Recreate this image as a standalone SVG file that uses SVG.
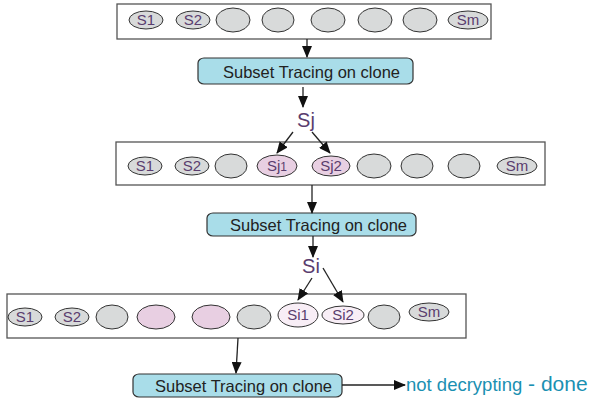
<svg xmlns="http://www.w3.org/2000/svg" width="590" height="404" viewBox="0 0 590 404">
<defs>
<style>
.row{fill:#fff;stroke:#555;stroke-width:1.3}
.g{fill:#d8dada;stroke:#333;stroke-width:1}
.p{fill:#e8cfe2;stroke:#333;stroke-width:1}
.lp{fill:#f8eef6;stroke:#333;stroke-width:1}
.lbl{font-family:"Liberation Sans",Arial,sans-serif;font-size:15px;fill:#5a3d6e;text-anchor:middle}
.big{font-family:"Liberation Sans",Arial,sans-serif;font-size:20px;fill:#5a3d6e;text-anchor:middle}
.proc{fill:#a9dde9;stroke:#333;stroke-width:1.2}
.pt{font-family:"Liberation Sans",Arial,sans-serif;font-size:16.5px;fill:#222}
.c{stroke:#222;stroke-width:1.3;fill:none;marker-end:url(#ah)}
.teal{font-family:"Liberation Sans",Arial,sans-serif;fill:#1a90b2}
</style>
<marker id="ah" markerWidth="12" markerHeight="10" refX="11" refY="5" orient="auto" markerUnits="userSpaceOnUse">
<path d="M0,0 L12,5 L0,10 z" fill="#111"/>
</marker>
</defs>

<g id="row1">
<rect class="row" x="117" y="4" width="374" height="35"/>
<ellipse class="g" cx="146" cy="20" rx="17" ry="9"/>
<text class="lbl" x="146" y="25">S1</text>
<ellipse class="g" cx="193" cy="20" rx="17" ry="9"/>
<text class="lbl" x="193" y="25">S2</text>
<ellipse class="g" cx="233" cy="20" rx="17" ry="12"/>
<ellipse class="g" cx="278" cy="20" rx="16" ry="12"/>
<ellipse class="g" cx="328" cy="20" rx="17" ry="12"/>
<ellipse class="g" cx="375" cy="20" rx="17" ry="12"/>
<ellipse class="g" cx="420" cy="20" rx="17" ry="12"/>
<ellipse class="g" cx="468" cy="20" rx="20" ry="9"/>
<text class="lbl" x="468" y="25">Sm</text>
</g>

<g id="proc1">
<rect class="proc" x="198" y="58" width="215" height="26" rx="6" ry="5"/>
<text class="pt" x="223" y="78">Subset Tracing on clone</text>
</g>

<g id="sj">
<text class="big" x="306" y="127">Sj</text>
</g>

<g id="row2">
<rect class="row" x="116" y="142" width="429" height="43"/>
<ellipse class="g" cx="145" cy="166" rx="17" ry="9"/>
<text class="lbl" x="145" y="171">S1</text>
<ellipse class="g" cx="192" cy="166" rx="17" ry="9"/>
<text class="lbl" x="192" y="171">S2</text>
<ellipse class="g" cx="231" cy="166" rx="16" ry="12"/>
<ellipse class="p" cx="277" cy="166" rx="20" ry="11"/>
<text class="lbl" x="277" y="171">Sj<tspan font-size="12">1</tspan></text>
<ellipse class="p" cx="331" cy="166" rx="19" ry="10"/>
<text class="lbl" x="331" y="171">Sj2</text>
<ellipse class="g" cx="374" cy="166" rx="17" ry="12"/>
<ellipse class="g" cx="417" cy="166" rx="16" ry="12"/>
<ellipse class="g" cx="464" cy="166" rx="16" ry="12"/>
<ellipse class="g" cx="517" cy="166" rx="20" ry="9"/>
<text class="lbl" x="517" y="171">Sm</text>
</g>

<g id="proc2">
<rect class="proc" x="207" y="213" width="209" height="23" rx="6" ry="5"/>
<text class="pt" x="230" y="231">Subset Tracing on clone</text>
</g>

<g id="si">
<text class="big" x="311" y="273">Si</text>
</g>

<g id="row3">
<rect class="row" x="7" y="294" width="459" height="44"/>
<ellipse class="g" cx="25" cy="317" rx="17" ry="9"/>
<text class="lbl" x="25" y="322">S1</text>
<ellipse class="g" cx="72" cy="317" rx="17" ry="9"/>
<text class="lbl" x="72" y="322">S2</text>
<ellipse class="g" cx="112" cy="317" rx="16" ry="12"/>
<ellipse class="p" cx="156" cy="317" rx="19" ry="12"/>
<ellipse class="p" cx="211" cy="317" rx="19" ry="12"/>
<ellipse class="g" cx="254" cy="317" rx="17" ry="12"/>
<ellipse class="lp" cx="298" cy="315" rx="20" ry="12"/>
<text class="lbl" x="298" y="320" font-size="14">Si1</text>
<ellipse class="lp" cx="343" cy="315" rx="21" ry="9"/>
<text class="lbl" x="343" y="320" font-size="14">Si2</text>
<ellipse class="g" cx="384" cy="317" rx="16" ry="12"/>
<ellipse class="g" cx="429" cy="312" rx="20" ry="9"/>
<text class="lbl" x="429" y="317">Sm</text>
</g>

<g id="proc3">
<rect class="proc" x="133" y="374" width="209" height="23" rx="6" ry="5"/>
<text class="pt" x="155" y="392">Subset Tracing on clone</text>
</g>

<g id="result">
<text class="teal" x="406" y="391" font-size="18.5">not decrypting<tspan font-size="21"> - done</tspan></text>
</g>

<g id="connectors">
<path class="c" d="M307,39 L307,57"/>
<path class="c" d="M303,87 L303,107"/>
<path class="c" d="M293,132 L277,153"/>
<path class="c" d="M312,132 L330,153"/>
<path class="c" d="M312,185 L312,213"/>
<path class="c" d="M313,236 L313,257"/>
<path class="c" d="M312,278 L298,300"/>
<path class="c" d="M323,268 L343,302"/>
<path class="c" d="M238,338 L236,373"/>
<path class="c" d="M342,385 L405,385"/>
</g>
</svg>
